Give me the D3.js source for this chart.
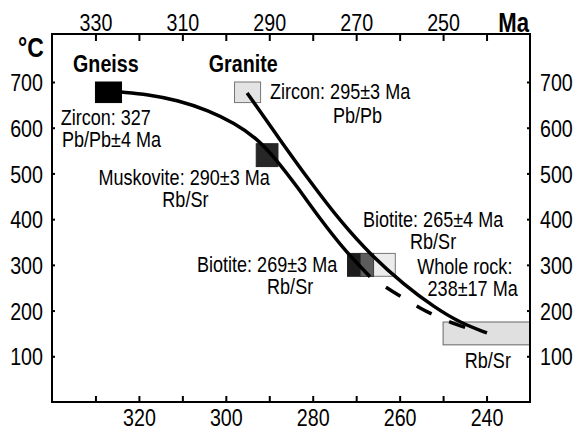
<!DOCTYPE html>
<html>
<head>
<meta charset="utf-8">
<script src="https://cdn.jsdelivr.net/npm/d3@7"></script>
<style>
	body { margin: 0; background: #fff; }
	svg { display: block; font-family: 'Liberation Sans', Arial, sans-serif; }
	.axis path { display: none; }
	.axis line { stroke: #000; stroke-width: 2; }
	.axis text { font-size: 24px; fill: #000; font-family: 'Liberation Sans', Arial, sans-serif; }
	.note { font-size: 22px; fill: #000; }
	.title { font-weight: bold; fill: #000; }
</style>
</head>
<body>
<script>
// axis ticks (Ma, reversed) and temperature ticks
let topTicks = [330, 320, 310, 300, 290, 280, 270, 260, 250, 240];
let topLabels = [330, 310, 290, 270, 250];
let bottomLabels = [320, 300, 280, 260, 240];
let tempTicks = [100, 200, 300, 400, 500, 600, 700];

// cooling path of the gneiss [Ma, °C]
let gneissSolid = [[324.1, 678], [318.0, 673], [311.0, 660], [304.0, 638], [298.0, 610], [293.0, 578],
	[288.5, 532], [283.5, 470], [278.5, 403], [272.5, 330], [266.8, 274]];
let gneissDashed = [[266.8, 274], [262.7, 248], [259.0, 227], [255.3, 205], [251.5, 187], [247.2, 170], [243.3, 158]];

// cooling path of the granite [Ma, °C]
let granitePath = [[295.1, 676], [287.5, 573], [280.6, 482], [273.7, 396], [266.5, 320],
	[259.0, 257], [252.0, 207], [246.0, 173], [239.9, 151]];

// age boxes: [Ma from, Ma to], [°C from, °C to]
let boxNames = ["gneissZircon", "graniteZircon", "muskovite", "biotite265", "biotite269", "wholeRock"];
let boxAges = [[324, 330], [292, 298], [288, 293], [261, 269], [266, 272], [230, 250]];
let boxTemps = [[655, 700], [655, 700], [515, 565], [275, 325], [275, 325], [125, 175]];

// annotation text, placed at [Ma, °C]
let noteLines = [
	["Zircon: 327", "Pb/Pb\u00b14 Ma"],
	["Zircon: 295\u00b13 Ma", "Pb/Pb"],
	["Muskovite: 290\u00b13 Ma", "Rb/Sr"],
	["Biotite: 269\u00b13 Ma", "Rb/Sr"],
	["Biotite: 265\u00b14 Ma", "Rb/Sr"],
	["Whole rock:", "238\u00b117 Ma"],
	["Rb/Sr"]
];
let noteAt = [[338.0, 606], [273.7, 663], [309.6, 475], [290.5, 284], [252.3, 383], [245.0, 280], [239.7, 74]];

//narrow look: squeeze text horizontally
let squeeze = 0.82;
function narrow(sel){
	sel.each(function(){
		let t = d3.select(this);
		let tx = +(t.attr("x") || 0);
		t.attr("x", tx / squeeze)
			.attr("transform", "scale(" + squeeze + ",1)");
		t.selectAll("tspan").each(function(){
			let s = d3.select(this);
			s.attr("x", +(s.attr("x") || 0) / squeeze);
		});
	});
}

window.onload = function(){
	let w = 578, h = 432;

	let svg = d3.select("body")
		.append("svg")
		.attr("width", w)
		.attr("height", h);

	let x = d3.scaleLinear()
		.domain([340, 230])
		.range([52, 530]);

	let y = d3.scaleLinear()
		.domain([0, 805])
		.range([402, 34]);

	//boxes go under the lines
	let fills = {
		gneissZircon: "#000",
		graniteZircon: "#e3e3e3",
		muskovite: "#262626",
		biotite265: "#ececec",
		biotite269: "#1c1c1c",
		wholeRock: "#e0e0e0"
	};
	let strokes = {
		gneissZircon: "#000",
		graniteZircon: "#777",
		muskovite: "#222",
		biotite265: "#777",
		biotite269: "#222",
		wholeRock: "#666"
	};

	svg.selectAll(".box")
		.data(boxNames)
		.enter()
		.append("rect")
		.attr("class", "box")
		.attr("x", function(d, i){ return x(boxAges[i][1]); })
		.attr("y", function(d, i){ return y(boxTemps[i][1]); })
		.attr("width", function(d, i){ return x(boxAges[i][0]) - x(boxAges[i][1]); })
		.attr("height", function(d, i){ return y(boxTemps[i][0]) - y(boxTemps[i][1]); })
		.style("fill", function(d){ return fills[d]; })
		.style("stroke", function(d){ return strokes[d]; })
		.style("stroke-width", 1);

	//overlap of the two biotite ages
	let a = boxAges[3], b = boxAges[4];
	svg.append("rect")
		.attr("x", x(Math.min(a[1], b[1])))
		.attr("y", y(boxTemps[3][1]))
		.attr("width", x(Math.max(a[0], b[0])) - x(Math.min(a[1], b[1])))
		.attr("height", y(boxTemps[3][0]) - y(boxTemps[3][1]))
		.style("fill", "#5c5c5c");

	//cooling paths
	let line = d3.line()
		.x(function(d){ return x(d[0]); })
		.y(function(d){ return y(d[1]); })
		.curve(d3.curveBasis);

	svg.append("path")
		.attr("d", line(gneissSolid))
		.style("fill", "none")
		.style("stroke", "#000")
		.style("stroke-width", 3.5);

	svg.append("path")
		.attr("d", line(gneissDashed))
		.style("fill", "none")
		.style("stroke", "#000")
		.style("stroke-width", 3.5)
		.style("stroke-dasharray", "17,19")
		.style("stroke-dashoffset", 17);

	svg.append("path")
		.attr("d", line(granitePath))
		.style("fill", "none")
		.style("stroke", "#000")
		.style("stroke-width", 3.5);

	//frame
	svg.append("rect")
		.attr("x", 52)
		.attr("y", 34)
		.attr("width", 478)
		.attr("height", 368)
		.style("fill", "none")
		.style("stroke", "#000")
		.style("stroke-width", 2);

	//axes, ticks point inwards
	let labelOf = function(list){
		return function(d){ return list.indexOf(d) >= 0 ? d : ""; };
	};

	svg.append("g")
		.attr("class", "axis")
		.attr("transform", "translate(0,34)")
		.call(d3.axisTop(x).tickValues(topTicks).tickSize(-7).tickPadding(3).tickFormat(labelOf(topLabels)))
		.selectAll("text").call(narrow);

	svg.append("g")
		.attr("class", "axis")
		.attr("transform", "translate(0,402)")
		.call(d3.axisBottom(x).tickValues(topTicks).tickSize(-6).tickPadding(7).tickFormat(labelOf(bottomLabels)))
		.selectAll("text").call(narrow);

	svg.append("g")
		.attr("class", "axis")
		.attr("transform", "translate(52,0)")
		.call(d3.axisLeft(y).tickValues(tempTicks).tickSize(-3).tickPadding(9).tickFormat(d3.format("d")))
		.selectAll("text").attr("dy", "0.36em").call(narrow);

	svg.append("g")
		.attr("class", "axis")
		.attr("transform", "translate(530,0)")
		.call(d3.axisRight(y).tickValues(tempTicks).tickSize(-3).tickPadding(10).tickFormat(d3.format("d")))
		.selectAll("text").attr("dy", "0.36em").call(narrow);

	//unit titles
	svg.append("text")
		.attr("class", "title")
		.attr("x", 18)
		.attr("y", 57)
		.style("font-size", "28px")
		.text("\u00b0C")
		.call(narrow);

	svg.append("text")
		.attr("class", "title")
		.attr("x", 529)
		.attr("y", 32)
		.attr("text-anchor", "end")
		.style("font-size", "27px")
		.text("Ma")
		.call(narrow);

	//rock names
	svg.selectAll(".rock")
		.data(["Gneiss", "Granite"])
		.enter()
		.append("text")
		.attr("class", "title rock")
		.attr("text-anchor", "middle")
		.attr("x", function(d, i){ return x([327.6, 296.0][i]); })
		.attr("y", y(722))
		.style("font-size", "24px")
		.text(function(d){ return d; })
		.call(narrow);

	//annotations
	let notes = svg.selectAll(".note")
		.data(noteLines)
		.enter()
		.append("text")
		.attr("class", "note")
		.attr("text-anchor", function(d, i){ return i == 0 ? "start" : "middle"; })
		.attr("y", function(d, i){ return y(noteAt[i][1]); });

	notes.selectAll("tspan")
		.data(function(d, i){ return d.map(function(t, j){ return {t: t, j: j, i: i}; }); })
		.enter()
		.append("tspan")
		.attr("x", function(d){
			let shift = [[0, -0.3], [0, -4], [0, -0.3], [0, -5.3], [0, 0], [0, -1.8], [0]][d.i][d.j];
			return x(noteAt[d.i][0] + shift);
		})
		.attr("dy", function(d){ return d.j == 0 ? 0 : (d.i == 1 ? 24 : 22); })
		.text(function(d){ return d.t; });

	notes.call(narrow);
};
</script>
</body>
</html>
